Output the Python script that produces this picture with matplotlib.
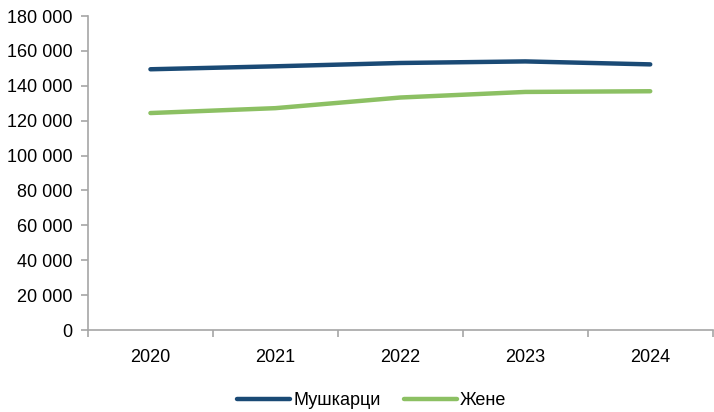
import matplotlib
matplotlib.use("Agg")
import matplotlib.pyplot as plt
from matplotlib.ticker import FuncFormatter, FixedLocator
import numpy as np

years = ["2020", "2021", "2022", "2023", "2024"]
muskarci = [149500, 151200, 153100, 154000, 152300]
zene = [124400, 127200, 133300, 136500, 136900]

plt.rcParams['font.family'] = ['Liberation Sans Narrow', 'Liberation Sans', 'DejaVu Sans']

fig = plt.figure(figsize=(7.14, 4.12), dpi=100)
ax = fig.add_axes([0.1232, 0.199, 0.875, 0.762])

x = np.arange(len(years))
ax.plot(x, muskarci, color='#1a4a75', lw=3.2, solid_capstyle='round', label='Мушкарци')
ax.plot(x, zene, color='#8cc063', lw=3.2, solid_capstyle='round', label='Жене')

ax.set_xlim(-0.5, len(years) - 0.5)
ax.set_ylim(0, 180000)
ax.set_yticks(np.arange(0, 180001, 20000))
ax.yaxis.set_major_formatter(FuncFormatter(lambda v, p: f"{int(v):,}".replace(",", " ")))

ax.set_xticks(x)
ax.set_xticklabels(years)
ax.xaxis.set_minor_locator(FixedLocator(np.arange(-0.5, len(years), 1.0)))
ax.tick_params(axis='x', which='major', length=0, pad=14, labelsize=13)
ax.tick_params(axis='x', which='minor', length=5, color='#a6a6a6', width=1.2)
ax.tick_params(axis='y', length=5, color='#a6a6a6', width=1.2, labelsize=13, pad=6)

for s in ['top', 'right']:
    ax.spines[s].set_visible(False)
for s in ['left', 'bottom']:
    ax.spines[s].set_color('#a6a6a6')
    ax.spines[s].set_linewidth(1.2)

fig.legend(loc='center', bbox_to_anchor=(0.521, 0.028), ncol=2, frameon=False,
           fontsize=13, handlelength=2.9, handletextpad=0.2, columnspacing=1.3)

fig.savefig("out.png", dpi=100)
